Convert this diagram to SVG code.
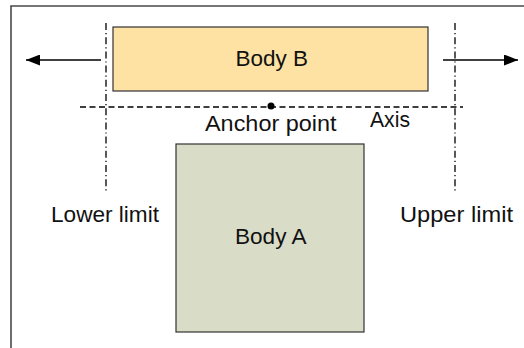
<svg xmlns="http://www.w3.org/2000/svg" width="524" height="348" viewBox="0 0 524 348">
  <style>
    .lbl { font-family: "Liberation Sans", Arial, sans-serif; font-size: 22.5px; fill: #111; }
    .box { stroke: #333; stroke-width: 1.2; }
    .limit { stroke: #000; stroke-width: 1.3; stroke-dasharray: 7 3 1.2 3; fill: none; }
    .axis { stroke: #000; stroke-width: 1.3; stroke-dasharray: 6 3.5; fill: none; }
    .arrow { stroke: #000; stroke-width: 1.3; fill: none; }
  </style>
  <defs>
    <marker id="ah" viewBox="0 0 14 11" refX="14" refY="5.5" markerWidth="14" markerHeight="11" markerUnits="userSpaceOnUse" orient="auto">
      <path d="M0,0 L14,5.5 L0,11 Z" fill="#000"/>
    </marker>
  </defs>
  <rect width="524" height="348" fill="#fff"/>
  <path d="M11,348 V6 H524" fill="none" stroke="#4a4a4a" stroke-width="1.6"/>

  <g id="bodyA">
    <rect class="box" x="176" y="144" width="188" height="188" fill="#d9ddc8"/>
    <text class="lbl" x="235" y="243.5" textLength="71.5" lengthAdjust="spacingAndGlyphs">Body A</text>
  </g>
  <g id="bodyB">
    <rect class="box" x="113" y="27" width="315" height="64" fill="#fde2a4"/>
    <text class="lbl" x="235.5" y="66" textLength="72.5" lengthAdjust="spacingAndGlyphs">Body B</text>
  </g>

  <g id="connectors">
    <line class="limit" x1="106" y1="23" x2="106" y2="193"/>
    <line class="limit" x1="455" y1="23" x2="455" y2="193"/>
    <line class="axis" x1="80" y1="107" x2="463" y2="107"/>
    <line class="arrow" x1="101" y1="60" x2="26" y2="60" marker-end="url(#ah)"/>
    <line class="arrow" x1="443" y1="60" x2="518" y2="60" marker-end="url(#ah)"/>
  </g>

  <g id="anchor">
    <circle cx="271" cy="106" r="3.5" fill="#000"/>
    <text class="lbl" x="205" y="131" textLength="131.5" lengthAdjust="spacingAndGlyphs">Anchor point</text>
  </g>
  <g id="axisLabel">
    <text class="lbl" x="370" y="126.5" textLength="40" lengthAdjust="spacingAndGlyphs">Axis</text>
  </g>
  <g id="lowerLimit">
    <text class="lbl" x="51" y="221.5" textLength="108" lengthAdjust="spacingAndGlyphs">Lower limit</text>
  </g>
  <g id="upperLimit">
    <text class="lbl" x="400" y="221.5" textLength="113" lengthAdjust="spacingAndGlyphs">Upper limit</text>
  </g>
</svg>
